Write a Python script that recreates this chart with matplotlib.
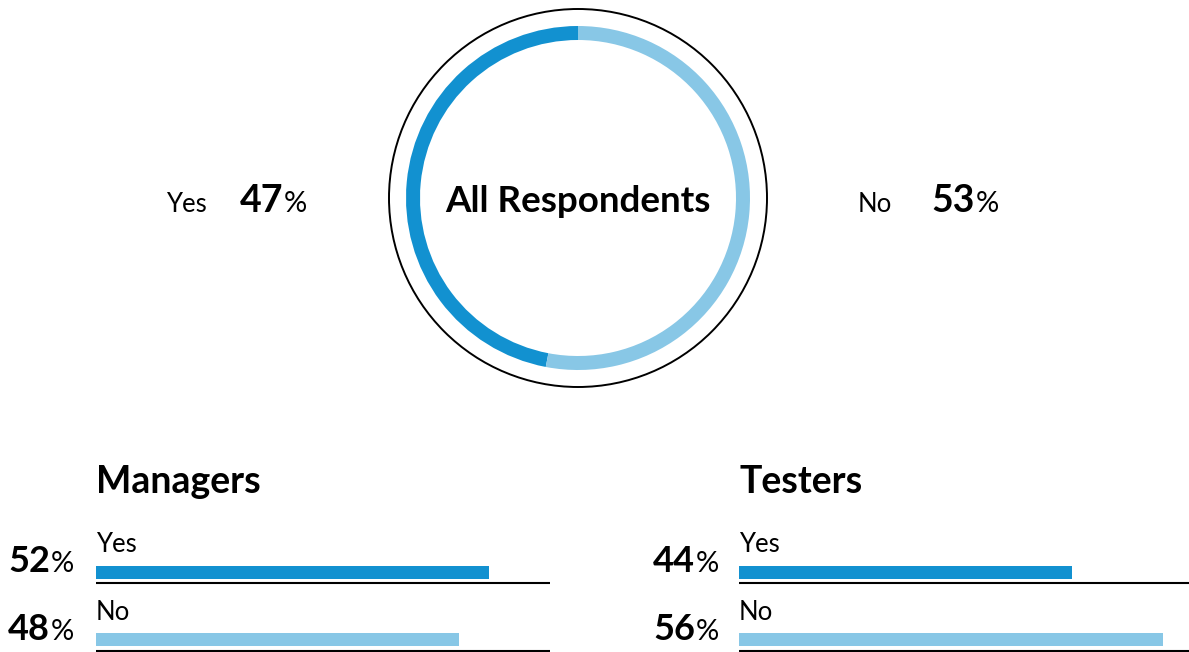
import matplotlib

matplotlib.use("Agg")
import matplotlib.pyplot as plt
from matplotlib.patches import Circle

plt.rcParams["font.family"] = ["Lato", "DejaVu Sans"]

W, H = 1189, 652
DARK = "#1291d0"
LIGHT = "#88c7e6"

answers = ["Yes", "No"]
overall = [47, 53]
groups = ["Managers", "Testers"]
group_values = {"Managers": [52, 48], "Testers": [44, 56]}
bar_max = 60


def fig_axes(fig, x0, y0, w, h):
    """Axes placed by pixel box (x0, y0 = top-left in image coords)."""
    return fig.add_axes([x0 / W, (H - y0 - h) / H, w / W, h / H])


fig = plt.figure(figsize=(W / 100, H / 100), dpi=100)

# --- donut: all respondents
cx, cy, half = 578, 198, 200
dax = fig_axes(fig, cx - half, cy - half, 2 * half, 2 * half)
dax.pie(overall, colors=[DARK, LIGHT], startangle=90, counterclock=True,
        radius=172, wedgeprops=dict(width=14, linewidth=0))
dax.add_patch(Circle((0, 0), 189, fill=False, edgecolor="black", linewidth=1.4))
dax.set_xlim(-half, half)
dax.set_ylim(-half, half)
dax.set_aspect("equal")
dax.axis("off")

# --- overlay for all text, pixel coordinates
tax = fig.add_axes([0, 0, 1, 1], zorder=5)
tax.set_xlim(0, W)
tax.set_ylim(H, 0)
tax.axis("off")
tax.patch.set_alpha(0)

tax.text(cx, 212, "All Respondents", ha="center", va="baseline",
         fontsize=26.5, fontweight="bold")

side_pos = [(166, 283), (858, 975)]
for ans, val, (lx, nx) in zip(answers, overall, side_pos):
    tax.text(lx, 212, ans, ha="left", va="baseline", fontsize=18.5)
    tax.text(nx, 212, f"{val}", ha="right", va="baseline", fontsize=27, fontweight="bold")
    tax.text(nx + 1, 212, "%", ha="left", va="baseline", fontsize=21)

# --- bar groups
bar_x = [96, 739]
bar_w = 454
num_right = [50, 695]
bar_centers = [572, 639.5]
label_base = [552, 620]
num_base = [572, 640]
line_y = [583, 651]

for g, x0, nr in zip(groups, bar_x, num_right):
    vals = group_values[g]
    bax = fig_axes(fig, x0, 530, bar_w, H - 530)
    bax.set_xlim(0, bar_max)
    bax.set_ylim(H, 530)
    bax.barh(bar_centers, vals, height=13, color=[DARK, LIGHT], left=0)
    for ly in line_y:
        bax.axhline(ly, color="black", linewidth=1.5)
    bax.axis("off")

    tax.text(x0, 493, g, ha="left", va="baseline", fontsize=27, fontweight="bold")
    for ans, v, lb, nb in zip(answers, vals, label_base, num_base):
        tax.text(x0, lb, ans, ha="left", va="baseline", fontsize=18.5)
        tax.text(nr, nb, f"{v}", ha="right", va="baseline", fontsize=26, fontweight="bold")
        tax.text(nr + 1, nb, "%", ha="left", va="baseline", fontsize=21)

fig.savefig("out.png", dpi=100)
plt.close(fig)
